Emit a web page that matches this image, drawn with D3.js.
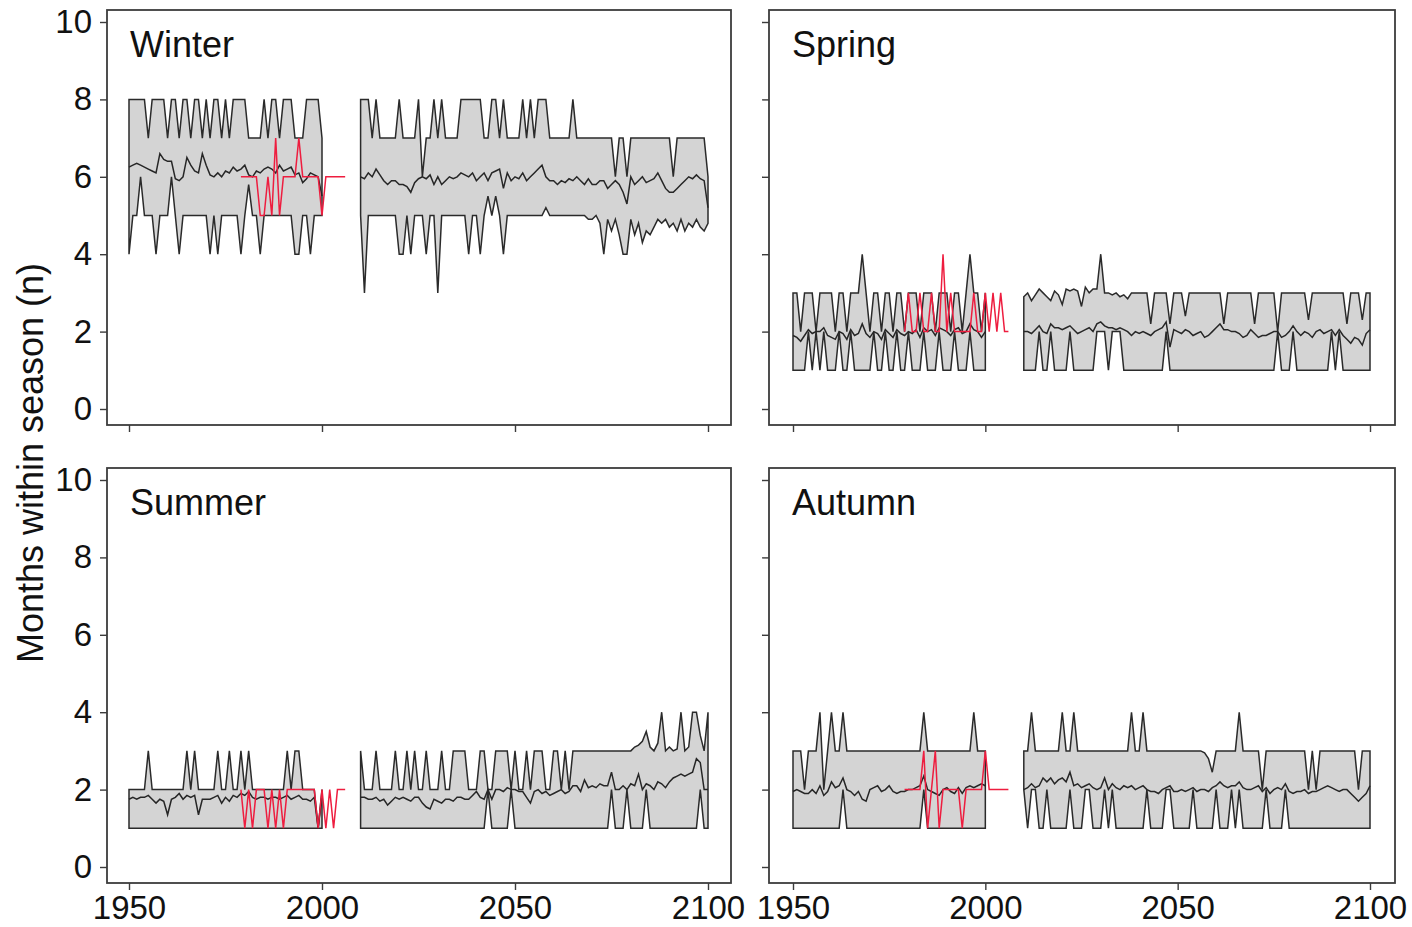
<!DOCTYPE html>
<meta charset="utf-8">
<style>
body { margin: 0; background: #fff; }
text { font-family: "Liberation Sans", Arial, sans-serif; fill: #111; }
.band { fill: #d4d4d4; stroke: #2a2a2a; stroke-width: 1.5px; }
.mean { fill: none; stroke: #262626; stroke-width: 1.5px; }
.obs { fill: none; stroke: #ee1d3f; stroke-width: 1.5px; }
.frame { fill: none; stroke: #3c3c3c; stroke-width: 1.8px; }
.tick line { stroke: #3c3c3c; stroke-width: 1.4px; }
</style>
<body>
<script src="https://d3js.org/d3.v7.min.js"></script>
<script>

// years of each period
var histYears = d3.range(1950, 2001);
var futYears = d3.range(2010, 2101);
var obsYears = d3.range(1979, 2007);

// ---- Winter ----
var winterHistMax = [8,8,8,8,8,7,8,8,8,8, 7,8,8,7,8,8,7,8,8,7, 8,7,8,8,7,8,7,8,8,8,
  8,7,7,7,7,8,7,8,8,7, 8,8,8,7,7,7,8,8,8,8, 7];
var winterHistMin = [4,5,5,6,5,5,5,4,5,5, 5,6,5,4,5,5,5,5,5,5, 5,4,5,4,5,5,5,5,5,4,
  5,5.8,5,5,4,5,5,5,5,5, 5,5,5,4,4,5,5,4,5,5, 5];
var winterHistMean = [6.25,6.3,6.35,6.3,6.25,6.2,6.15,6.1,6.6,6.45, 6.4,6.4,5.95,5.9,6.0,6.5,6.3,6.15,6.1,6.6,
  6.3,6.05,6.0,6.1,6.0,6.15,6.1,6.25,6.15,6.2, 6.3,6.05,6.0,6.15,6.1,6.2,6.25,6.2,6.1,6.3,
  6.15,6.2,6.25,6.05,6.1,5.85,5.95,6.1,6.05,6.0, 5.5];
var winterObs = [6,6,6,6,6,5,5,6,5,7, 5,6,6,6,6,7,6,6,6,6, 6,5,6,6,6,6,6,6];
var winterFutMax = [8,8,8,7,8,7,7,7,7,7, 8,7,7,7,7,8,6,7,7,8, 7,8,7,7,7,7,8,8,8,8,
  8,8,7,7,8,8,7,8,7,7, 7,7,8,7,8,7,8,8,8,7, 7,7,7,7,7,8,7,7,7,7,
  7,7,7,7,7,7,6,7,7,6, 7,7,7,7,7,7,7,7,7,7, 7,6,7,7,7,7,7,7,7,7, 6];
var winterFutMin = [5,3,5,5,5,5,5,5,5,5, 4,4,5,4,5,5,5,4,5,5, 3,5,5,5,5,5,5,5,4,5,
  5,4,5,5.5,5,5.5,5,4,5,5, 5,5,5,5,5,5,5,5,5.2,5, 5,5,5,5,5,5,5,5,5,4.9,
  4.9,5,4.8,4,4.9,4.6,4.9,4.5,4,4, 4.9,4.5,4.8,4.3,4.6,4.5,4.7,4.9,4.8,4.9,
  4.7,4.8,4.6,4.9,4.6,4.8,4.7,4.9,4.7,4.6, 4.8];
var winterFutMean = [6.0,5.95,6.1,6.0,6.2,6.05,5.9,5.8,5.9,5.9, 5.8,5.8,5.75,5.6,5.85,5.95,6.0,5.95,6.05,5.8,
  6.0,5.8,5.9,6.0,5.95,6.0,6.1,6.05,6.0,6.1, 5.9,6.0,6.1,5.9,6.1,6.15,6.2,5.7,6.1,5.9,
  6.0,5.95,6.1,5.9,6.0,6.1,6.2,6.3,6.0,5.9, 5.9,5.8,5.9,5.85,5.95,5.9,6.0,5.9,5.8,5.95,
  5.8,5.8,5.9,5.9,5.7,5.8,5.9,5.8,5.6,5.3, 6.0,5.8,5.9,6.0,5.85,5.9,5.95,6.1,5.9,5.7,
  5.6,5.6,5.7,5.8,5.9,6.0,5.95,6.05,5.95,5.9, 5.2];

// ---- Spring ----
var springHistMax = [3,3,2,3,3,3,2,3,3,3, 3,2,3,3,2,3,3,3,4,3, 2,3,3,2,3,3,2,3,3,2,
  3,3,3,2,3,3,3,2,3,3, 3,2,3,3,2,3,4,3,3,2, 3];
var springHistMin = [1,1,1,1,2,1,2,1,2,1, 1,1,2,1,1,2,1,1,1,1, 1,2,1,1,2,1,1,2,1,1,
  2,1,1,1,2,1,1,1,2,1, 1,1,2,1,1,1,2,1,1,1, 1];
var springHistMean = [1.9,1.85,1.75,1.9,2.05,1.95,2.0,2.0,2.1,1.9, 1.85,1.8,2.0,1.95,1.8,2.05,1.9,1.95,2.2,1.95,
  1.85,2.0,1.95,1.8,2.05,1.95,1.85,2.05,1.95,1.9, 2.0,1.95,2.05,1.85,2.1,2.0,2.05,1.9,2.1,2.05,
  2.0,1.9,2.05,2.1,1.95,2.0,2.2,2.05,2.0,1.85, 2.0];
var springObs = [2,3,2,2,3,2,2,3,2,2, 4,2,3,2,2,2,2,2,3,2, 2,3,2,3,2,3,2,2];
var springFutMax = [2.9,3.0,2.8,2.95,3.1,3.0,2.9,2.8,3.05,2.95, 2.7,3.1,3.05,3.1,3.05,2.65,3.15,3.0,3.1,3.1,
  4.0,3.0,3.0,2.95,3.0,2.9,2.95,2.85,3.0,3.0, 3,3,3,2.2,3,3,3,3,2.2,3, 3,3,2.4,3,3,3,3,3,3,3,
  3,3,2.2,3,3,3,3,3,3,3, 2.2,3,3,3,3,3,2,3,3,3, 3,3,3,3,2.3,3,3,3,3,3, 3,3,3,3,2.2,3,3,3,2.3,3, 3];
var springFutMin = [1,1,1,1,2,1,1,2,1,1, 1,1,2,1,1,1,1,1,1,2, 2,2,1,2,2,2,1,1,1,1,
  1,1,1,1,1,1,1,2,1,1, 1,1,1,1,1,1,1,1,1,1, 1,1,1,1,1,1,1,1,1,1,
  1,1,1,1,1,1,2,1,1,1, 2,1,1,1,1,1,1,1,1,1, 2,1,2,1,1,1,1,1,1,1, 1];
var springFutMean = [2.0,2.0,1.95,2.05,2.15,2.0,1.95,2.2,2.1,2.1, 2.05,2.1,2.15,2.05,1.95,2.0,2.05,2.1,2.0,2.2,
  2.25,2.15,2.1,2.1,2.05,2.1,2.05,2.0,1.9,2.0, 1.95,2.0,1.95,1.9,2.0,2.05,2.1,2.25,1.6,2.05,
  2.0,1.95,2.05,2.0,1.9,1.95,2.0,1.85,1.9,2.0, 2.1,2.2,2.05,2.05,2.0,2.0,1.95,1.85,1.9,2.05,
  1.95,1.85,1.9,1.9,1.95,2.0,2.0,1.85,1.9,2.0, 2.15,2.0,1.9,2.0,1.95,1.85,2.0,2.05,1.95,2.0,
  2.05,1.9,2.05,1.9,1.8,1.7,1.85,1.8,1.65,1.95, 2.05];

// ---- Summer ----
var summerHistMax = [2,2,2,2,2,3,2,2,2,2, 2,2,2,2,2,3,2,3,2,2, 2,2,2,3,2,2,3,2,2,3,
  2,3,2,2,2,2,2,2,2,2, 2,3,2,3,3,2,2,2,2,1, 2];
var summerHistMin = [1,1,1,1,1,1,1,1,1,1, 1,1,1,1,1,1,1,1,1,1, 1,1,1,1,1,1,1,1,1,1,
  1,1,1,1,1,1,1,1,1,1, 1,1,1,1,1,1,1,1,1,1, 1];
var summerHistMean = [1.75,1.8,1.75,1.8,1.8,1.85,1.75,1.65,1.75,1.7, 1.35,1.75,1.8,1.9,1.75,1.85,1.8,1.85,1.35,1.75,
  1.75,1.75,1.8,1.85,1.65,1.8,1.7,1.85,1.8,1.9, 1.85,1.95,1.8,1.75,1.8,1.8,1.75,1.8,1.8,1.75,
  1.8,1.85,1.75,1.8,1.85,1.75,1.75,1.7,1.8,1.0, 1.85];
var summerObs = [2,1,2,1,2,2,2,1,2,1, 2,1,2,2,2,2,2,2,2,2, 1,2,1,2,1,2,2,2];
var summerFutMax = [3,2,2,2,3,2,2,2,2,3, 2,2,3,2,3,2,2,3,2,2, 2,3,2,2,3,3,3,3,2,2,
  2,3,3,2,2,3,3,3,3,2, 3,2,2,3,2,3,3,3,2,2, 3,3,2,3,2,3,3,3,3,3,
  3,3,3,3,3,3,3,3,3,3, 3,3.1,3.15,3.25,3.5,3.1,3,3.2,4,3, 3.1,3,3.05,4,3,3.1,4,4,3.4,3, 4];
var summerFutMin = [1,1,1,1,1,1,1,1,1,1, 1,1,1,1,1,1,1,1,1,1, 1,1,1,1,1,1,1,1,1,1,
  1,1,1,2,1,1,1,1,1,2, 1,1,1,1,1,1,1,1,1,1, 1,1,1,1,1,1,1,1,1,1,
  1,1,1,1,1,2,1,1,1,2, 1,1,1,1,2,1,1,1,1,1, 1,1,1,1,1,1,1,1,2,1, 1];
var summerFutMean = [1.8,1.8,1.75,1.75,1.8,1.7,1.75,1.6,1.7,1.8, 1.75,1.8,1.75,1.7,1.8,1.8,1.65,1.55,1.5,1.75,
  1.7,1.65,1.75,1.75,1.7,1.8,1.8,1.75,1.75,1.85, 1.95,1.8,1.75,2.0,1.75,2.0,2.0,1.95,2.05,2.0,
  2.0,1.95,1.95,1.8,1.65,1.95,2.0,1.9,1.95,1.85, 1.9,1.95,2.0,1.9,1.95,2.1,2.1,1.95,2.25,2.05,
  2.1,2.05,2.15,2.1,2.1,2.45,2.0,2.0,2.1,2.0, 2.15,2.1,2.4,2.0,2.15,2.1,2.0,2.2,2.15,2.05,
  2.2,2.3,2.35,2.4,2.35,2.4,2.45,2.8,2.7,2.0, 2.0];

// ---- Autumn ----
var autumnHistMax = [3,3,3,2,3,3,3,4,2,3, 4,3,3,4,3,3,3,3,3,3, 3,3,3,3,3,3,3,3,3,3,
  3,3,3,3,4,3,3,3,3,3, 3,3,3,3,3,3,3,4,3,3, 3];
var autumnHistMin = [1,1,1,1,1,1,1,1,1,1, 1,1,1,2,1,1,1,1,1,1, 1,1,1,1,1,1,1,1,1,1,
  1,1,1,1,2,1,1,1,1,1, 1,1,1,1,1,1,1,1,1,1, 1];
var autumnHistMean = [1.95,2.0,1.95,1.9,1.9,2.0,1.9,2.1,1.85,1.95, 2.2,2.05,2.1,2.3,2.0,1.95,1.85,1.95,1.75,1.7,
  2.0,2.05,2.1,1.95,2.0,2.1,1.95,1.9,1.95,1.95, 2.0,2.0,2.05,2.1,2.35,2.0,1.95,1.9,1.85,2.0,
  2.05,1.95,1.9,2.05,1.9,2.05,2.1,2.05,2.1,2.15, 2.1];
var autumnObs = [2,2,2,2,2,3,1,2,3,1, 2,2,2,2,2,1,2,2,2,2, 2,3,2,2,2,2,2,2];
var autumnFutMax = [3,3,4,3,3,3,3,3,3,3, 4,3,3,4,3,3,3,3,3,3, 3,3,3,3,3,3,3,3,4,3,
  3,4,3,3,3,3,3,3,3,3, 3,3,3,3,3,3,3,2.95,2.8,2.45, 3,3,3,3,3,3,4,3,3,3,
  3,3,2,3,3,3,3,3,3,3, 3,3,3,3,2,3,2,3,3,3, 3,3,3,3,3,3,3,2,3,3, 3];
var autumnFutMin = [2,1,2,2,1,1,2,1,1,1, 1,1,2,1,1,1,2,2,1,1, 1,2,1,2,1,1,1,1,1,1,
  1,1,2,1,1,1,1,2,2,1, 1,1,1,1,2,1,1,1,1,1, 2,1,1,1,2,1,2,1,1,1,
  1,1,1,2,1,1,1,1,2,1, 1,1,1,1,1,1,1,1,1,1, 1,1,1,1,1,1,1,1,1,1, 1];
var autumnFutMean = [2.0,2.05,2.15,2.05,2.1,2.3,2.2,2.3,2.15,2.25, 2.3,2.2,2.45,2.1,2.15,2.05,2.1,2.15,2.05,2.0,
  2.05,2.3,2.0,2.15,2.05,2.0,2.1,2.05,2.1,2.0, 2.05,2.1,2.0,1.95,1.95,1.9,2.0,2.05,2.1,1.95,
  1.95,2.0,1.95,2.0,2.05,1.95,2.0,2.0,1.95,2.05, 2.1,2.2,2.1,2.05,2.1,2.1,2.2,2.05,2.0,2.0,
  2.05,2.1,1.95,2.05,1.9,2.0,2.05,2.0,2.15,1.95, 1.9,1.95,1.95,2.0,1.9,1.95,1.95,2.0,2.05,2.1,
  2.05,2.0,1.95,2.0,2.0,1.9,1.8,1.7,1.8,1.9, 2.1];

// tick values
var yTicks = [0, 2, 4, 6, 8, 10];
var xTicks = [1950, 2000, 2050, 2100];

// panels: title, column, row and its series
var panels = [
  {name: "Winter", col: 0, row: 0, hist: [winterHistMin, winterHistMax, winterHistMean],
   fut: [winterFutMin, winterFutMax, winterFutMean], obs: winterObs},
  {name: "Spring", col: 1, row: 0, hist: [springHistMin, springHistMax, springHistMean],
   fut: [springFutMin, springFutMax, springFutMean], obs: springObs},
  {name: "Summer", col: 0, row: 1, hist: [summerHistMin, summerHistMax, summerHistMean],
   fut: [summerFutMin, summerFutMax, summerFutMean], obs: summerObs},
  {name: "Autumn", col: 1, row: 1, hist: [autumnHistMin, autumnHistMax, autumnHistMean],
   fut: [autumnFutMin, autumnFutMax, autumnFutMean], obs: autumnObs}
];

var cols = [{x0: 107, w: 624, padL: 22}, {x0: 769, w: 626, padL: 24}];
var rows = [{y0: 10, h: 415}, {y0: 468, h: 415}];

var svg = d3.select("body").append("svg")
    .attr("width", 1412)
    .attr("height", 927);

// build rows of {year, lo, hi, mean}
function toRows(years, s) {
  return years.map(function(yr, i) {
    return {year: yr, lo: s[0][i], hi: s[1][i], mean: s[2][i]};
  });
}

panels.forEach(function(p) {
  var c = cols[p.col], r = rows[p.row];
  var g = svg.append("g").attr("transform", "translate(" + c.x0 + "," + r.y0 + ")");

  var x = d3.scaleLinear().domain([1950, 2100]).range([c.padL, 601]);
  var y = d3.scaleLinear().domain([0, 10]).range([399, 12]);

  var area = d3.area()
      .x(function(d) { return x(d.year); })
      .y0(function(d) { return y(d.lo); })
      .y1(function(d) { return y(d.hi); });
  var meanLine = d3.line()
      .x(function(d) { return x(d.year); })
      .y(function(d) { return y(d.mean); });
  var obsLine = d3.line()
      .x(function(d, i) { return x(obsYears[i]); })
      .y(function(d) { return y(d); });

  var periods = [toRows(histYears, p.hist), toRows(futYears, p.fut)];
  periods.forEach(function(data) {
    g.append("path").datum(data).attr("class", "band").attr("d", area);
  });
  periods.forEach(function(data) {
    g.append("path").datum(data).attr("class", "mean").attr("d", meanLine);
  });
  g.append("path").datum(p.obs).attr("class", "obs").attr("d", obsLine);

  // frame
  g.append("rect").attr("class", "frame")
      .attr("x", 0).attr("y", 0).attr("width", c.w).attr("height", r.h);

  // y axis
  var ya = g.append("g")
      .call(d3.axisLeft(y).tickValues(yTicks).tickSize(7).tickPadding(8)
        .tickFormat(p.col === 0 ? d3.format("d") : function() { return ""; }));
  ya.select(".domain").remove();
  ya.selectAll("text").style("font-size", "33px").attr("fill", "#111");

  // x axis
  var xa = g.append("g")
      .attr("transform", "translate(0," + r.h + ")")
      .call(d3.axisBottom(x).tickValues(xTicks).tickSize(7).tickPadding(6)
        .tickFormat(p.row === 1 ? d3.format("d") : function() { return ""; }));
  xa.select(".domain").remove();
  xa.selectAll("text").style("font-size", "33px").attr("fill", "#111");

  // title
  g.append("text")
      .attr("x", 23).attr("y", 47)
      .style("font-size", "36px")
      .text(p.name);
});

// y axis title
svg.append("text")
    .attr("transform", "translate(30,463) rotate(-90)")
    .attr("text-anchor", "middle")
    .attr("dominant-baseline", "central")
    .style("font-size", "36px")
    .text("Months within season (n)");

</script>
</body>
